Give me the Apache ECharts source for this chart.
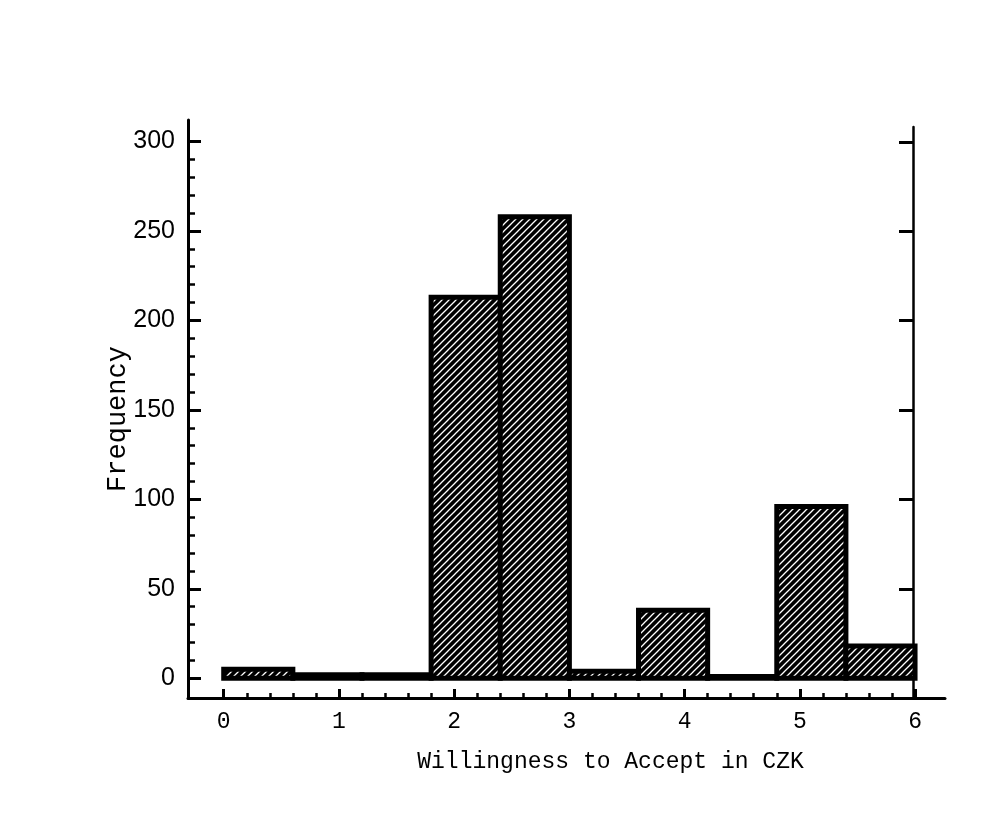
<!DOCTYPE html>
<html>
<head>
<meta charset="utf-8">
<script src="https://cdn.jsdelivr.net/npm/echarts@6/dist/echarts.min.js"></script>
<style>
  html, body { margin: 0; padding: 0; background: #fff; }
  #chart { width: 992px; height: 820px; }
</style>
</head>
<body>
<div id="chart"></div>
<script>
// histogram bins (width 0.6) and counts
var binStart = [0, 0.6, 1.2, 1.8, 2.4, 3.0, 3.6, 4.2, 4.8, 5.4];
var binEnd   = [0.6, 1.2, 1.8, 2.4, 3.0, 3.6, 4.2, 4.8, 5.4, 6.0];
var counts   = [5, 2, 2, 213, 258, 4, 38, 1, 96, 18];

var xTicks = [0, 1, 2, 3, 4, 5, 6];
var xMinorTicks = [0.2, 0.4, 0.6, 0.8, 1.2, 1.4, 1.6, 1.8, 2.2, 2.4, 2.6, 2.8,
                   3.2, 3.4, 3.6, 3.8, 4.2, 4.4, 4.6, 4.8, 5.2, 5.4, 5.6, 5.8];
var yTicks = [0, 50, 100, 150, 200, 250, 300];
var yMinorTicks = [10, 20, 30, 40, 60, 70, 80, 90, 110, 120, 130, 140, 160, 170, 180, 190,
                   210, 220, 230, 240, 260, 270, 280, 290];

var xName = 'Willingness to Accept in CZK';
var yName = 'Frequency';

// black fill with thin white "/" hatching
function hatch() {
    var c = document.createElement('canvas');
    c.width = 7; c.height = 7;
    var g = c.getContext('2d');
    g.fillStyle = '#000';
    g.fillRect(0, 0, 7, 7);
    g.strokeStyle = '#fff';
    g.lineWidth = 1.3;
    g.beginPath();
    g.moveTo(-1, 8); g.lineTo(8, -1);
    g.moveTo(-1, 1); g.lineTo(1, -1);
    g.moveTo(6, 8); g.lineTo(8, 6);
    g.stroke();
    return c;
}
var pattern = { image: hatch(), repeat: 'repeat' };

var data = binStart.map(function (s, i) { return [s, binEnd[i], counts[i]]; });

var chart = echarts.init(document.getElementById('chart'));
var mono = "'Liberation Mono', 'DejaVu Sans Mono', monospace";
var axisLine = { show: true, onZero: false, lineStyle: { color: '#000', width: 3 } };

chart.setOption({
    backgroundColor: '#fff',
    animation: false,
    grid: [
        { left: 188, right: 47, top: 120, bottom: 122 },
        { left: 188, right: 79, top: 127, bottom: 122 }
    ],
    xAxis: [
        {
            type: 'value', gridIndex: 0, position: 'bottom', min: -0.31, max: 6.26,
            name: xName, nameLocation: 'middle', nameGap: 52,
            nameTextStyle: { fontFamily: mono, fontSize: 23, color: '#000', padding: [0, 0, 0, 88] },
            axisLine: axisLine,
            axisTick: { show: true, inside: true, length: 9, customValues: xTicks, lineStyle: { width: 3, color: '#000' } },
            axisLabel: { customValues: xTicks, margin: 12, fontFamily: mono, fontSize: 23, color: '#000' },
            splitLine: { show: false }
        },
        {
            type: 'value', gridIndex: 0, position: 'bottom', min: -0.31, max: 6.26,
            axisLine: { show: false, onZero: false },
            axisTick: { show: true, inside: true, length: 5, customValues: xMinorTicks, lineStyle: { width: 2.5, color: '#000' } },
            axisLabel: { show: false },
            splitLine: { show: false }
        },
        {
            type: 'value', gridIndex: 1, min: -0.31, max: 6,
            show: false
        }
    ],
    yAxis: [
        {
            type: 'value', gridIndex: 0, position: 'left', min: -11, max: 312,
            name: yName, nameLocation: 'middle', nameGap: 57, nameRotate: 90, nameMoveOverlap: false,
            nameTextStyle: { fontFamily: mono, fontSize: 27, color: '#000', padding: [0, 20, 0, 0] },
            axisLine: axisLine,
            axisTick: { show: true, inside: true, length: 13, customValues: yTicks, lineStyle: { width: 3, color: '#000' } },
            axisLabel: { customValues: yTicks, margin: 13, fontFamily: "'Liberation Sans', Arial, sans-serif", fontSize: 25, color: '#000' },
            splitLine: { show: false }
        },
        {
            type: 'value', gridIndex: 0, position: 'left', min: -11, max: 312,
            axisLine: { show: false, onZero: false },
            axisTick: { show: true, inside: true, length: 7, customValues: yMinorTicks, lineStyle: { width: 2.5, color: '#000' } },
            axisLabel: { show: false },
            splitLine: { show: false }
        },
        {
            type: 'value', gridIndex: 1, position: 'right', min: -11, max: 308.3,
            axisLine: { show: true, onZero: false, lineStyle: { color: '#000', width: 2.5 } },
            axisTick: { show: true, inside: true, length: 14, customValues: yTicks, lineStyle: { width: 3, color: '#000' } },
            axisLabel: { show: false },
            splitLine: { show: false }
        }
    ],
    series: [
        {
            type: 'custom',
            xAxisIndex: 0,
            yAxisIndex: 0,
            data: data,
            renderItem: function (params, api) {
                var top = api.coord([api.value(0), api.value(2)]);
                var bot = api.coord([api.value(1), 0]);
                return {
                    type: 'rect',
                    shape: { x: top[0], y: top[1], width: bot[0] - top[0], height: bot[1] - top[1] },
                    style: { fill: pattern, stroke: '#000', lineWidth: 5 }
                };
            }
        }
    ]
});
</script>
</body>
</html>
